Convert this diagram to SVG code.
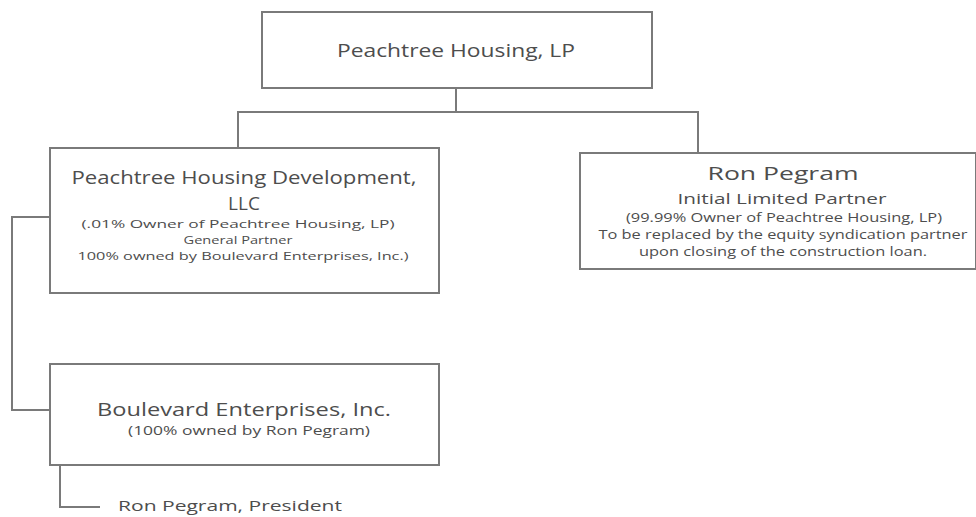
<svg xmlns="http://www.w3.org/2000/svg" width="976" height="517" viewBox="0 0 976 517">
<style>
.box{fill:#fff;stroke:#7a7a7a;stroke-width:2}
.conn{fill:none;stroke:#7a7a7a;stroke-width:2}
text{font-family:"Open Sans","Liberation Sans",sans-serif;fill:#4d4d4d;text-anchor:middle}
.t{font-size:19px}
.s{font-size:12px}
.x{font-size:11px}
.m{font-size:15px}
</style>
<rect width="976" height="517" fill="#fff"/>
<g id="connectors">
<path class="conn" d="M456,88 V112 M238,148 V112 H698 V153"/>
<path class="conn" d="M50,217 H12 V410 H50"/>
<path class="conn" d="M60,465 V507 H100"/>
</g>
<g id="peachtree-housing-lp">
<rect class="box" x="262" y="12" width="390" height="76"/>
<text class="t" x="456" y="57" textLength="238" lengthAdjust="spacingAndGlyphs">Peachtree Housing, LP</text>
</g>
<g id="peachtree-housing-development">
<rect class="box" x="50" y="148" width="389" height="145"/>
<text class="t" x="244" y="184" textLength="345" lengthAdjust="spacingAndGlyphs">Peachtree Housing Development,</text>
<text class="t" x="244" y="210">LLC</text>
<text class="x" x="238" y="228" textLength="313" lengthAdjust="spacingAndGlyphs">(.01% Owner of Peachtree Housing, LP)</text>
<text class="x" x="238" y="244" textLength="109" lengthAdjust="spacingAndGlyphs">General Partner</text>
<text class="x" x="243" y="260" textLength="331" lengthAdjust="spacingAndGlyphs">100% owned by Boulevard Enterprises, Inc.)</text>
</g>
<g id="ron-pegram">
<rect class="box" x="580" y="153" width="396" height="116"/>
<text class="t" x="783" y="180" textLength="151" lengthAdjust="spacingAndGlyphs">Ron Pegram</text>
<text class="m" x="782" y="204" textLength="209" lengthAdjust="spacingAndGlyphs">Initial Limited Partner</text>
<text class="s" x="784" y="222" textLength="316" lengthAdjust="spacingAndGlyphs">(99.99% Owner of Peachtree Housing, LP)</text>
<text class="s" x="783" y="239" textLength="369" lengthAdjust="spacingAndGlyphs">To be replaced by the equity syndication partner</text>
<text class="s" x="783" y="256" textLength="288" lengthAdjust="spacingAndGlyphs">upon closing of the construction loan.</text>
</g>
<g id="boulevard-enterprises">
<rect class="box" x="50" y="364" width="389" height="101"/>
<text class="t" x="244" y="416" textLength="294" lengthAdjust="spacingAndGlyphs">Boulevard Enterprises, Inc.</text>
<text class="s" x="249" y="435" textLength="242" lengthAdjust="spacingAndGlyphs">(100% owned by Ron Pegram)</text>
</g>
<g id="ron-pegram-president">
<text class="m" x="118" y="511" style="text-anchor:start" textLength="224" lengthAdjust="spacingAndGlyphs">Ron Pegram, President</text>
</g>
</svg>
